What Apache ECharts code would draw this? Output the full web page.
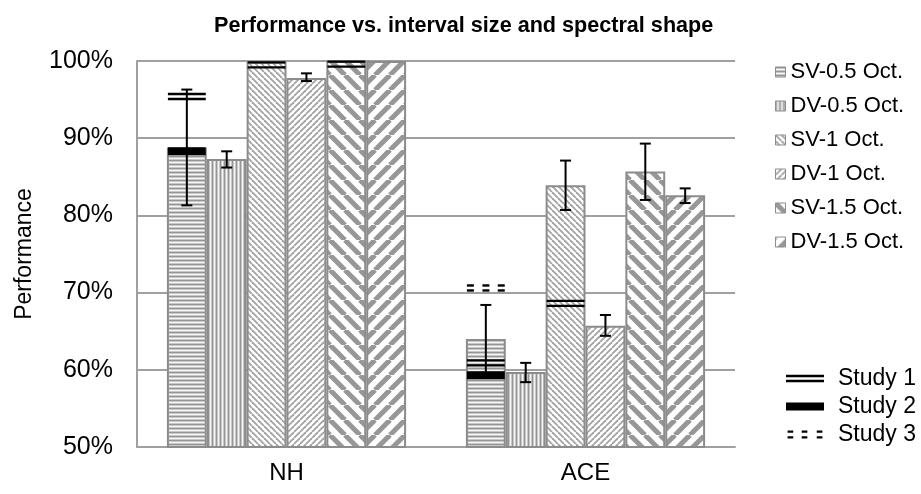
<!DOCTYPE html>
<html><head><meta charset="utf-8">
<script src="https://cdn.jsdelivr.net/npm/echarts@6/dist/echarts.min.js"></script>
<style>html,body{margin:0;padding:0;background:#fff}#c{width:921px;height:494px}</style>
</head><body><div id="c"></div>
<script>
// ---- data ----
const categories = ['NH', 'ACE'];
const seriesNames = ['SV-0.5 Oct.', 'DV-0.5 Oct.', 'SV-1 Oct.', 'DV-1 Oct.', 'SV-1.5 Oct.', 'DV-1.5 Oct.'];
const sv05 = [88.8, 64.0];
const dv05 = [87.3, 59.7];
const sv1 = [99.9, 83.9];
const dv1 = [97.8, 65.7];
const sv15 = [100, 85.7];
const dv15 = [100, 82.6];
// error bars [low, high] per category (null = none)
const errSV05 = [[81.3, 96.3], [59.6, 68.4]];
const errDV05 = [[86.2, 88.3], [58.4, 60.9]];
const errSV1 = [null, [80.7, 87.1]];
const errDV1 = [[97.4, 98.4], [64.4, 67.1]];
const errSV15 = [null, [82.0, 89.3]];
const errDV15 = [null, [81.6, 83.5]];
// study markers [category, series, value]
const study1 = [['NH', 'SV-0.5 Oct.', 95.4], ['NH', 'SV-1 Oct.', 99.5], ['NH', 'SV-1.5 Oct.', 99.6], ['ACE', 'SV-0.5 Oct.', 60.9], ['ACE', 'SV-1 Oct.', 68.6]];
const study2 = [['NH', 'SV-0.5 Oct.', 88.3], ['ACE', 'SV-0.5 Oct.', 59.3]];
const study3 = [['ACE', 'SV-0.5 Oct.', 70.6]];
const yTicks = [50, 60, 70, 80, 90, 100];

// ---- patterns ----
function makePattern(kind) {
  const cv = document.createElement('canvas');
  let ctx;
  if (kind === 'h' || kind === 'v') {
    const w = 4, h = 4;
    cv.width = w; cv.height = h; ctx = cv.getContext('2d');
    const cols = ['#959595', '#c8c8c8', '#f6f6f6', '#c8c8c8'];
    cols.forEach((c, i) => { ctx.fillStyle = c; if (kind === 'h') ctx.fillRect(0, i, w, 1); else ctx.fillRect(i, 0, 1, h); });
  } else {
    const wide = kind.indexOf('w') >= 0;
    const p = wide ? 15 : 6, lw = wide ? 5 : 1.8;
    cv.width = p; cv.height = p; ctx = cv.getContext('2d');
    ctx.fillStyle = '#fff'; ctx.fillRect(0, 0, p, p);
    ctx.strokeStyle = wide ? '#979797' : '#a2a2a2'; ctx.lineWidth = lw;
    const back = kind[0] === 'b'; // '\' direction
    for (const k of [-p, 0, p]) {
      ctx.beginPath();
      if (back) { ctx.moveTo(k, 0); ctx.lineTo(k + p, p); }
      else { ctx.moveTo(k, p); ctx.lineTo(k + p, 0); }
      ctx.stroke();
    }
  }
  return { image: cv, repeat: 'repeat' };
}
const patterns = [makePattern('h'), makePattern('v'), makePattern('b'), makePattern('f'), makePattern('bw'), makePattern('fw')];
const values = [sv05, dv05, sv1, dv1, sv15, dv15];
const errs = [errSV05, errDV05, errSV1, errDV1, errSV15, errDV15];

const FONT = 'Liberation Sans, Arial, sans-serif';
const GAP = 0.2;

function barPos(api, c, k) {
  const band = api.size([1, 0])[0];
  const cx = api.coord([c, 50])[0];
  const group = band * (1 - GAP);
  const bw = group / 6;
  return { left: cx - group / 2 + k * bw, bw: bw };
}

const errData = [];
errs.forEach((arr, k) => arr.forEach((e, c) => { if (e) errData.push([c, k, e[0], e[1]]); }));

function studyData(arr) {
  return arr.map(d => [categories.indexOf(d[0]), seriesNames.indexOf(d[1]), d[2]]);
}

function renderStudy(type) {
  return function (params, api) {
    const c = api.value(0), k = api.value(1), v = api.value(2);
    const p = barPos(api, c, k);
    const y = api.coord([c, v])[1];
    const x0 = p.left + 1, w = p.bw - 2;
    const st = { fill: '#000' };
    const ch = [];
    if (type === 1) {
      ch.push({ type: 'rect', shape: { x: x0, y: y - 3.7, width: w, height: 2.4 }, style: st });
      ch.push({ type: 'rect', shape: { x: x0, y: y + 1.3, width: w, height: 2.4 }, style: st });
    } else if (type === 2) {
      ch.push({ type: 'rect', shape: { x: x0, y: y - 4, width: w, height: 8 }, style: st });
    } else {
      const dw = w * 0.185;
      [0, 0.41, 0.815].forEach(f => {
        ch.push({ type: 'rect', shape: { x: x0 + f * w, y: y - 3.7, width: dw, height: 2.4 }, style: st });
        ch.push({ type: 'rect', shape: { x: x0 + f * w, y: y + 1.3, width: dw, height: 2.4 }, style: st });
      });
    }
    return { type: 'group', children: ch };
  };
}

const series = seriesNames.map((n, k) => ({
  name: n, type: 'bar', data: values[k],
  barGap: '0%', barCategoryGap: '20%',
  itemStyle: { color: patterns[k], borderColor: '#8c8c8c', borderWidth: 2 },
  z: 2
}));

series.push({
  name: 'err', type: 'custom', data: errData, z: 10,
  encode: { x: 0, y: [2, 3] },
  renderItem: function (params, api) {
    const c = api.value(0), k = api.value(1);
    const p = barPos(api, c, k);
    const x = p.left + p.bw / 2;
    const yl = api.coord([c, api.value(2)])[1], yh = api.coord([c, api.value(3)])[1];
    const s = { stroke: '#000', lineWidth: 2 };
    const cap = 5.5;
    return { type: 'group', children: [
      { type: 'line', shape: { x1: x, y1: yl, x2: x, y2: yh }, style: s },
      { type: 'line', shape: { x1: x - cap, y1: yl, x2: x + cap, y2: yl }, style: s },
      { type: 'line', shape: { x1: x - cap, y1: yh, x2: x + cap, y2: yh }, style: s }
    ] };
  }
});
[study1, study2, study3].forEach((arr, i) => {
  series.push({
    name: 'Study ' + (i + 1), type: 'custom', data: studyData(arr), z: 12,
    encode: { x: 0, y: 2 }, itemStyle: { color: '#000' },
    renderItem: renderStudy(i + 1)
  });
});

const chart = echarts.init(document.getElementById('c'), null, { renderer: 'canvas' });
chart.setOption({
  animation: false,
  backgroundColor: '#fff',
  title: {
    text: 'Performance vs. interval size and spectral shape', left: 214, top: 15, padding: 0,
    textStyle: { fontFamily: FONT, fontSize: 21.6, fontWeight: 'bold', color: '#000' }
  },
  grid: { left: 137, right: 186, top: 61, bottom: 47, containLabel: false },
  legend: [{
    data: seriesNames, orient: 'vertical', left: 775, top: 61, itemGap: 12, padding: 0,
    icon: 'rect', itemWidth: 10, itemHeight: 10,
    itemStyle: { borderWidth: 1 },
    textStyle: { fontFamily: FONT, fontSize: 22, color: '#000' }
  }, {
    data: [
      { name: 'Study 1', icon: 'path://M0,0H38V2.5H0Z M0,5H38V7.5H0Z' },
      { name: 'Study 2', icon: 'path://M0,0H38V8H0Z' },
      { name: 'Study 3', icon: 'path://M0,0H6V2.5H0Z M15,0H21V2.5H15Z M31,0H37V2.5H31Z M0,6H6V8.5H0Z M15,6H21V8.5H15Z M31,6H37V8.5H31Z' }
    ],
    orient: 'vertical', left: 786, top: 367, itemGap: 5, padding: 0,
    itemWidth: 38, itemHeight: 8,
    textStyle: { fontFamily: FONT, fontSize: 23, color: '#000', padding: [0, 0, 0, 9] }
  }],
  xAxis: {
    type: 'category', data: categories,
    axisLine: { lineStyle: { color: '#a0a0a0', width: 2 } },
    axisTick: { show: false },
    axisLabel: { fontFamily: FONT, fontSize: 24, color: '#000', margin: 14 }
  },
  yAxis: {
    type: 'value', min: yTicks[0], max: yTicks[yTicks.length - 1], interval: 10,
    name: 'Performance', nameLocation: 'middle', nameGap: 101,
    nameTextStyle: { fontFamily: FONT, fontSize: 23, color: '#000' },
    axisLine: { show: true, lineStyle: { color: '#a0a0a0', width: 2 } },
    axisTick: { show: false },
    splitLine: { lineStyle: { color: '#a0a0a0', width: 2 } },
    axisLabel: { fontFamily: FONT, fontSize: 25, color: '#000', margin: 24, formatter: '{value}%' }
  },
  series: series
});
</script>
</body></html>
